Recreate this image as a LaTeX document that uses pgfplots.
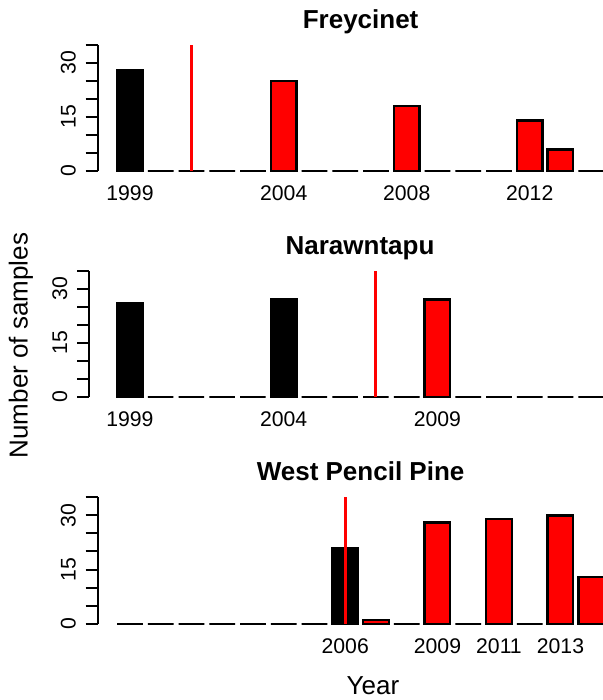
\documentclass[border=0pt]{standalone}
\usepackage{fontspec}
\setmainfont{Liberation Sans}
\usepackage{pgfplots}
\pgfplotsset{compat=1.18}

\pgfplotsset{
  panel/.style={
    scale only axis,
    height=63.2pt,
    ymin=0, ymax=35,
    xmax=2015.05,
    axis y line*=left,
    axis x line*=bottom,
    x axis line style={draw=none},
    xtick style={draw=none},
    ytick={0,5,...,35},
    yticklabels={0,,,15,,,30,},
    tick align=outside,
    major tick length=6pt,
    y axis line style={line width=1pt},
    ytick style={line width=1pt, black},
    tick label style={font=\fontsize{10.6}{12}\selectfont},
    yticklabel style={rotate=90, anchor=base, yshift=5pt},
    xticklabel style={anchor=base, yshift=-8.8pt},
    /pgf/number format/assume math mode=true,
    clip=false,
  },
  bars/.style={ybar, bar width=0.8333, bar shift=0pt, draw=black, line width=1.2pt},
  vline/.style={red, line width=1.5pt, forget plot},
}
\tikzset{ptitle/.style={anchor=base, font=\bfseries\fontsize{13}{15}\selectfont, yshift=8.25pt}}

\begin{document}
\begin{tikzpicture}

% Panel 1: Freycinet
\begin{axis}[panel, width=262.9pt, xmin=1997.95,
  at={(48.85pt,264.5pt)}, anchor=south west,
  xtick={1999,2004,2008,2012}, xticklabels={1999,2004,2008,2012}]
\addplot[bars, fill=black] coordinates {(1999,28) (2000,0) (2001,0) (2002,0) (2003,0) (2005,0) (2006,0) (2007,0) (2009,0) (2010,0) (2011,0) (2014,0)};
\addplot[bars, fill=red] coordinates {(2004,25) (2008,18) (2012,14) (2013,6)};
\addplot[vline] coordinates {(2001,0) (2001,35)};
\node[ptitle] at (rel axis cs:0.5,1) {Freycinet};
\end{axis}

% Panel 2: Narawntapu
\begin{axis}[panel, width=267.25pt, xmin=1997.67,
  at={(44.5pt,151.5pt)}, anchor=south west,
  xtick={1999,2004,2009}, xticklabels={1999,2004,2009}]
\addplot[bars, fill=black] coordinates {(1999,26) (2000,0) (2001,0) (2002,0) (2003,0) (2004,27) (2005,0) (2006,0) (2007,0) (2008,0) (2010,0) (2011,0) (2012,0) (2013,0) (2014,0)};
\addplot[bars, fill=red] coordinates {(2009,27)};
\addplot[vline] coordinates {(2007,0) (2007,35)};
\node[ptitle, xshift=1.9pt] at (rel axis cs:0.5,1) {Narawntapu};
\end{axis}

% Panel 3: West Pencil Pine
\begin{axis}[panel, width=262.9pt, xmin=1997.95,
  at={(48.85pt,38.15pt)}, anchor=south west,
  xtick={2006,2009,2011,2013}, xticklabels={2006,2009,2011,2013}]
\addplot[bars, fill=black] coordinates {(1999,0) (2000,0) (2001,0) (2002,0) (2003,0) (2004,0) (2005,0) (2006,21) (2008,0) (2010,0) (2012,0)};
\addplot[bars, fill=red] coordinates {(2007,1) (2009,28) (2011,29) (2013,30) (2014,13)};
\addplot[vline] coordinates {(2006,0) (2006,35)};
\node[ptitle] at (rel axis cs:0.5,1) {West Pencil Pine};
\end{axis}

\node[rotate=90, font=\fontsize{13}{15}\selectfont] at (10.5pt,177.2pt) {Number of samples};
\node[anchor=base, font=\fontsize{13}{15}\selectfont] at (186.5pt,2.5pt) {Year};

\pgfresetboundingbox
\useasboundingbox (0,0) rectangle (301.5pt,350pt);
\end{tikzpicture}
\end{document}
